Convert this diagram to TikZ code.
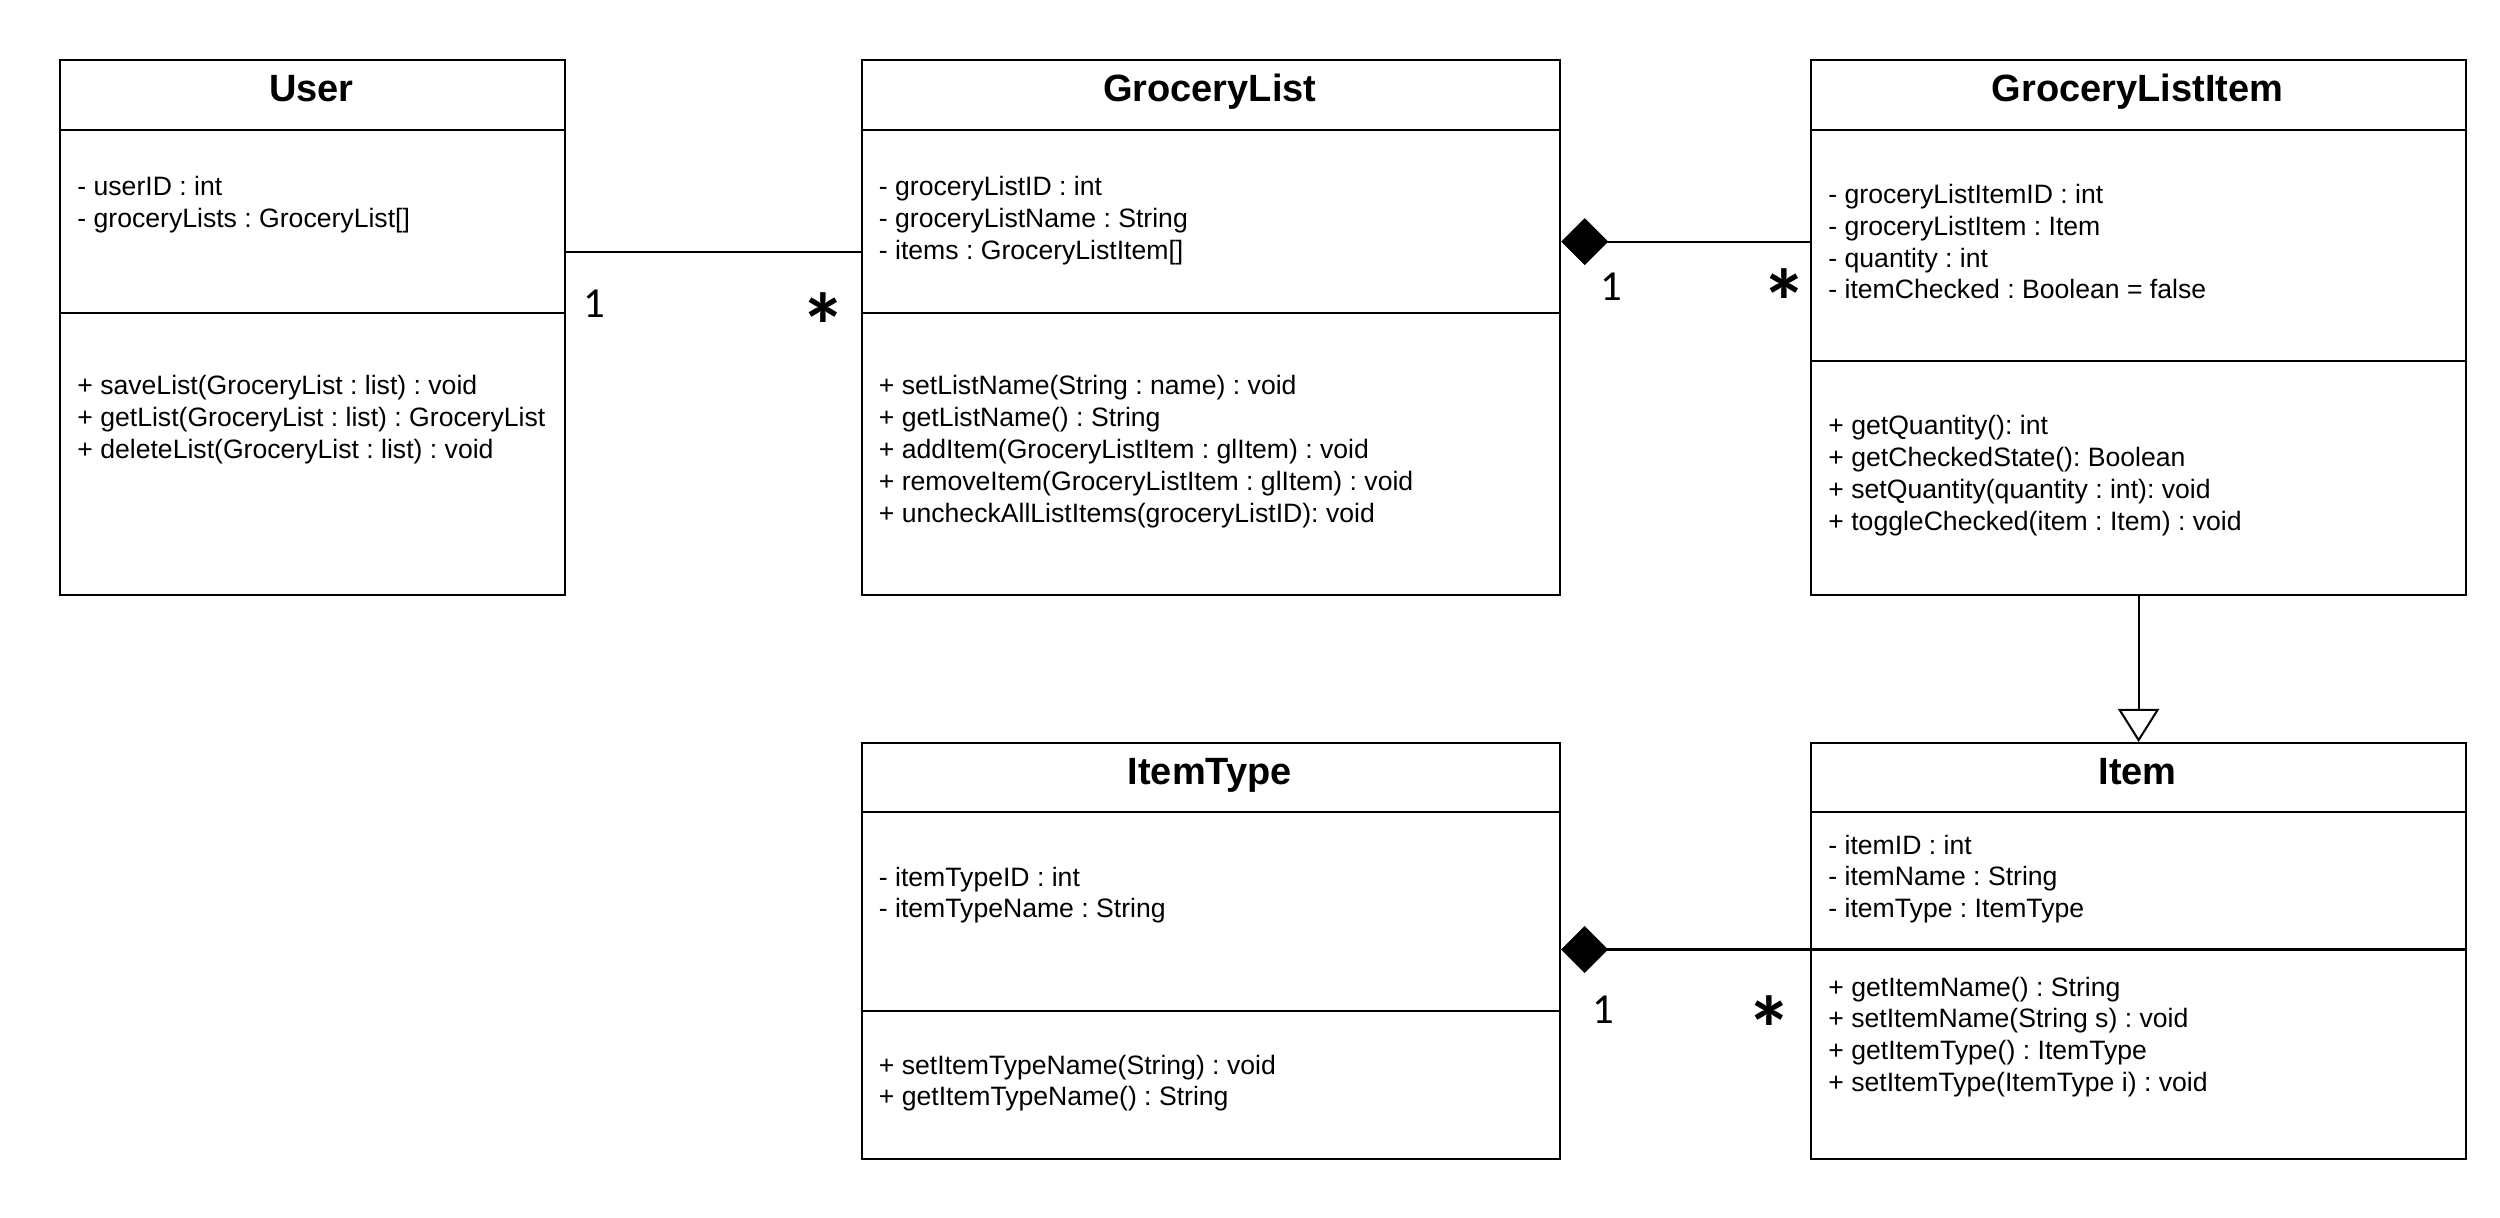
\documentclass[tikz,border=0pt]{standalone}
\usepackage{fontspec}
\setmainfont{Liberation Sans}
\newfontfamily\multfont{Carlito}
\usetikzlibrary{arrows.meta}
\frenchspacing

\newcommand{\memberlist}[1]{\begin{tabular}[t]{@{}l@{}}#1\end{tabular}}

\tikzset{
	classbox/.style={draw, line width=1.1pt, inner sep=0pt, anchor=north west},
	compartment/.style={line width=1.1pt},
	classname/.style={font=\fontsize{19}{23}\selectfont\bfseries, inner sep=0pt, anchor=base},
	members/.style={font=\fontsize{13.3}{15.9}\selectfont, inner sep=0pt, anchor=base west},
	mult/.style={font=\multfont\fontsize{21.4}{26}\selectfont, inner sep=0pt},
	many/.style={font=\multfont\fontsize{46}{52}\selectfont\bfseries, inner sep=0pt, anchor=base},
	assoc/.style={line width=1.1pt},
	compose/.style={line width=1.1pt, -{Diamond[length=23.5pt, width=23.5pt]}},
	inherit/.style={line width=1pt, -{Triangle[open, length=16.5pt, width=20.5pt, fill=white]}}
}

\begin{document}
\begin{tikzpicture}[x=0.5pt, y=-0.5pt]
	\useasboundingbox (0,0) rectangle (2500,1218);
	
	% classes
	\node[classbox, minimum width=252.5pt, minimum height=267.5pt] (user) at (59,59) {};
	\node[classbox, minimum width=349.25pt, minimum height=267.5pt] (glist) at (860.5,59) {};
	\node[classbox, minimum width=327.5pt, minimum height=267.5pt] (gitem) at (1810,59) {};
	\node[classbox, minimum width=349.25pt, minimum height=208pt] (itemtype) at (860.5,742) {};
	\node[classbox, minimum width=327.5pt, minimum height=208pt] (item) at (1810,742) {};
	
	% compartments
	\draw[compartment] (user.west |- 0,130) -- (user.east |- 0,130);
	\draw[compartment] (user.west |- 0,313) -- (user.east |- 0,313);
	\draw[compartment] (glist.west |- 0,130) -- (glist.east |- 0,130);
	\draw[compartment] (glist.west |- 0,313) -- (glist.east |- 0,313);
	\draw[compartment] (gitem.west |- 0,130) -- (gitem.east |- 0,130);
	\draw[compartment] (gitem.west |- 0,361) -- (gitem.east |- 0,361);
	\draw[compartment] (itemtype.west |- 0,812) -- (itemtype.east |- 0,812);
	\draw[compartment] (itemtype.west |- 0,1011) -- (itemtype.east |- 0,1011);
	\draw[compartment] (item.west |- 0,812) -- (item.east |- 0,812);
	\draw[compartment] (item.west |- 0,949.5) -- (item.east |- 0,949.5);
	
	% names
	\node[classname] (user-name) at (311.5,101.7) {User};
	\node[classname] (glist-name) at (1209.75,101.7) {GroceryList};
	\node[classname] (gitem-name) at (2137.5,101.7) {GroceryListItem};
	\node[classname] (itemtype-name) at (1209.75,784.5) {ItemType};
	\node[classname] (item-name) at (2137.5,784.5) {Item};
	
	% attributes
	\node[members] (user-attr) at (77,195.5) {\memberlist{- userID : int\\- groceryLists : GroceryList[]}};
	\node[members] (glist-attr) at (878.5,195.5) {\memberlist{- groceryListID : int\\- groceryListName : String\\- items : GroceryListItem[]}};
	\node[members] (gitem-attr) at (1828,203.5) {\memberlist{- groceryListItemID : int\\- groceryListItem : Item\\- quantity : int\\- itemChecked : Boolean = false}};
	\node[members] (itemtype-attr) at (878.5,886) {\memberlist{- itemTypeID : int\\- itemTypeName : String}};
	\node[members] (item-attr) at (1828,854) {\memberlist{- itemID : int\\- itemName : String\\- itemType : ItemType}};
	
	% operations
	\node[members] (user-ops) at (77,395) {\memberlist{+ saveList(GroceryList : list) : void\\+ getList(GroceryList : list) : GroceryList\\+ deleteList(GroceryList : list) : void}};
	\node[members] (glist-ops) at (878.5,395) {\memberlist{+ setListName(String : name) : void\\+ getListName() : String\\+ addItem(GroceryListItem : glItem) : void\\+ removeItem(GroceryListItem : glItem) : void\\+ uncheckAllListItems(groceryListID): void}};
	\node[members] (gitem-ops) at (1828,435) {\memberlist{+ getQuantity(): int\\+ getCheckedState(): Boolean\\+ setQuantity(quantity : int): void\\+ toggleChecked(item : Item) : void}};
	\node[members] (itemtype-ops) at (878.5,1074) {\memberlist{+ setItemTypeName(String) : void\\+ getItemTypeName() : String}};
	\node[members] (item-ops) at (1828,996) {\memberlist{+ getItemName() : String\\+ setItemName(String s) : void\\+ getItemType() : ItemType\\+ setItemType(ItemType i) : void}};
	
	% relations
	\draw[assoc] (user.east |- 0,251.7) -- (glist.west |- 0,251.7);
	\draw[compose] (gitem.west |- 0,241.7) -- (glist.east |- 0,241.7);
	\draw[compose] (item.west |- 0,949.5) -- (itemtype.east |- 0,949.5);
	\draw[inherit] (gitem.south) -- (item.north);
	
	% multiplicities
	\node[mult] (user-one) at (594,303.5) {1};
	\node[many] (glist-many) at (823,359) {*};
	\node[mult] (glist-one) at (1611,286.7) {1};
	\node[many] (gitem-many) at (1784,335) {*};
	\node[mult] (itemtype-one) at (1603,1010) {1};
	\node[many] (item-many) at (1769,1061) {*};
\end{tikzpicture}
\end{document}
